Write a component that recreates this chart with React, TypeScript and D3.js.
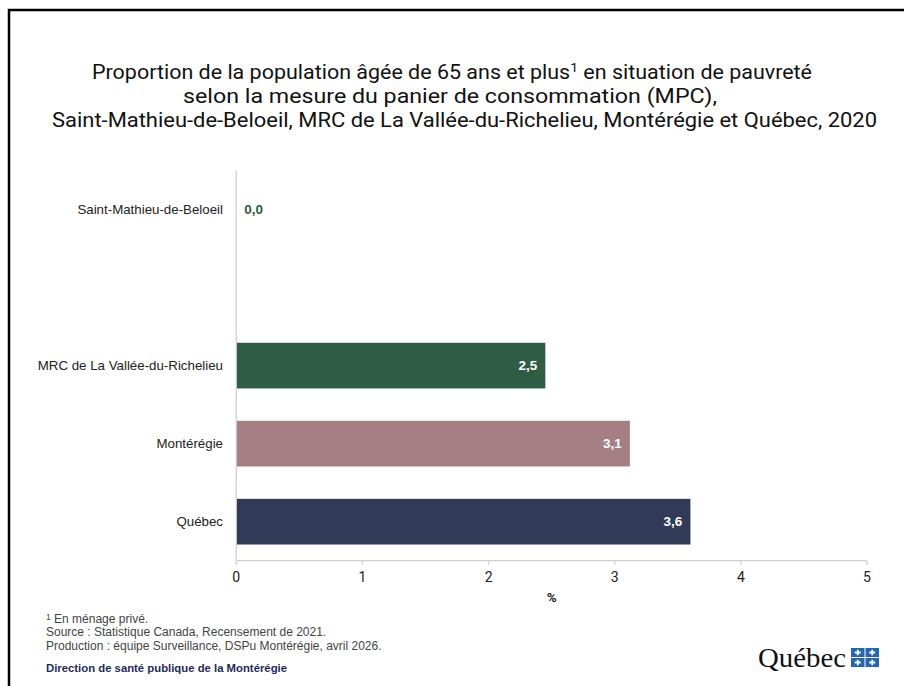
import React from "react";
import * as d3 from "d3";

const categories = [
  "Saint-Mathieu-de-Beloeil",
  "",
  "MRC de La Vallée-du-Richelieu",
  "Montérégie",
  "Québec",
];
const values: (number | null)[] = [0.0, null, 2.45, 3.12, 3.6];
const barColors = ["#2f5c45", "none", "#2f5c45", "#a67f84", "#313b58"];
const xTicks = [0, 1, 2, 3, 4, 5];
const titleLines = [
  "Proportion de la population âgée de 65 ans et plus",
  "selon la mesure du panier de consommation (MPC),",
  "Saint-Mathieu-de-Beloeil, MRC de La Vallée-du-Richelieu, Montérégie et Québec, 2020",
];
const notes = [
  "En ménage privé.",
  "Source : Statistique Canada, Recensement de 2021.",
  "Production : équipe Surveillance, DSPu Montérégie, avril 2026.",
];
const producer = "Direction de santé publique de la Montérégie";

const W = 904;
const H = 686;
const fmt = (v: number) => d3.format(".1f")(v).replace(".", ",");

export default function App() {
  const x = d3.scaleLinear().domain([0, 5]).range([236.3, 867]);
  const y = d3
    .scaleBand<string>()
    .domain(categories.map((c, i) => String(i)))
    .range([170.5, 560.7])
    .paddingInner(0.415)
    .paddingOuter(0.2075);
  const bw = y.bandwidth();
  const sans = "'Liberation Sans', Arial, sans-serif";
  const titleFont = "Roboto, 'Liberation Sans', sans-serif";

  return (
    <svg
      width={W}
      height={H}
      style={{ position: "absolute", left: 0, top: 0, display: "block", background: "#fff" }}
    >
      <rect x={0} y={0} width={W} height={H} fill="#fff" />
      <rect x={9} y={10} width={W + 20} height={H + 20} fill="none" stroke="#000" strokeWidth={2.5} />

      {/* Title */}
      <g fontFamily={titleFont} fontSize={20} fill="#111" textAnchor="start">
        <text x={92} y={79} textLength={720} lengthAdjust="spacingAndGlyphs">
          {titleLines[0]}
          <tspan fontSize={13} dy={-7}>1</tspan>
          <tspan dy={7}> en situation de pauvreté</tspan>
        </text>
        <text x={183} y={103} textLength={534} lengthAdjust="spacingAndGlyphs">
          {titleLines[1]}
        </text>
        <text x={52} y={127} textLength={825} lengthAdjust="spacingAndGlyphs">
          {titleLines[2]}
        </text>
      </g>

      {/* Bars */}
      {categories.map((c, i) => {
        const v = values[i];
        if (v === null) return null;
        const yy = y(String(i))!;
        const x1 = x(v);
        const cy = yy + bw / 2;
        return (
          <g key={i}>
            {v > 0 && (
              <rect x={x(0)} y={yy} width={x1 - x(0)} height={bw} fill={barColors[i]} />
            )}
            {v > 0 ? (
              <text
                x={x1 - 8}
                y={cy}
                dy="0.35em"
                textAnchor="end"
                fontFamily={sans}
                fontWeight="bold"
                fontSize={13.5}
                fill="#fff"
              >
                {fmt(v)}
              </text>
            ) : (
              <text
                x={x1 + 8}
                y={cy}
                dy="0.35em"
                textAnchor="start"
                fontFamily={sans}
                fontWeight="bold"
                fontSize={13.5}
                fill={barColors[i]}
              >
                {fmt(v)}
              </text>
            )}
          </g>
        );
      })}

      {/* Category labels */}
      {categories.map((c, i) =>
        c ? (
          <text
            key={"l" + i}
            x={223}
            y={y(String(i))! + bw / 2}
            dy="0.35em"
            textAnchor="end"
            fontFamily={sans}
            fontSize={13.3}
            fill="#222"
          >
            {c}
          </text>
        ) : null
      )}

      {/* Axes */}
      <line x1={x(0)} x2={x(0)} y1={170.5} y2={560.7} stroke="#d0d0d0" strokeWidth={1.3} />
      <line x1={x(0)} x2={x(5)} y1={560.7} y2={560.7} stroke="#d0d0d0" strokeWidth={1.3} />
      {xTicks.map((t) => (
        <g key={t}>
          <line x1={x(t)} x2={x(t)} y1={560.7} y2={565} stroke="#d0d0d0" strokeWidth={1.3} />
          <text
            x={x(t)}
            y={577}
            dy="0.35em"
            textAnchor="middle"
            fontFamily={titleFont}
            fontSize={14}
            fill="#222"
          >
            {t}
          </text>
        </g>
      ))}
      <text x={x(2.5)} y={597} dy="0.35em" textAnchor="middle" fontFamily={titleFont} fontSize={13.5} fontWeight="bold" fill="#222">
        %
      </text>

      {/* Notes */}
      <g fontFamily={sans} fontSize={12} fill="#444">
        <text x={46} y={623}>
          <tspan fontSize={8.5} dy={-3}>1</tspan>
          <tspan dy={3}> {notes[0]}</tspan>
        </text>
        <text x={46} y={636}>{notes[1]}</text>
        <text x={46} y={650}>{notes[2]}</text>
      </g>
      <text x={46} y={672} fontFamily={sans} fontSize={10.5} fontWeight="bold" fill="#1f2a5c" textLength={241} lengthAdjust="spacingAndGlyphs">
        {producer}
      </text>

      {/* Québec logo */}
      <text x={758} y={667} fontFamily="'Liberation Serif', 'DejaVu Serif', serif" fontSize={27} fill="#111" textLength={88} lengthAdjust="spacingAndGlyphs">
        Québec
      </text>
      <g>
        {[0, 1].map((r) =>
          [0, 1].map((cIdx) => {
            const sx = 851 + cIdx * 14.5;
            const sy = 648 + r * 10;
            const sw = 13.5;
            const sh = 9;
            return (
              <g key={`${r}-${cIdx}`}>
                <rect x={sx} y={sy} width={sw} height={sh} fill="#2466b1" />
                <path
                  d={`M${sx + sw / 2},${sy + 1.8} L${sx + sw / 2},${sy + sh - 1.8} M${sx + sw / 2 - 3},${sy + sh / 2} L${sx + sw / 2 + 3},${sy + sh / 2}`}
                  stroke="#fff"
                  strokeWidth={1.8}
                />
              </g>
            );
          })
        )}
      </g>
    </svg>
  );
}
